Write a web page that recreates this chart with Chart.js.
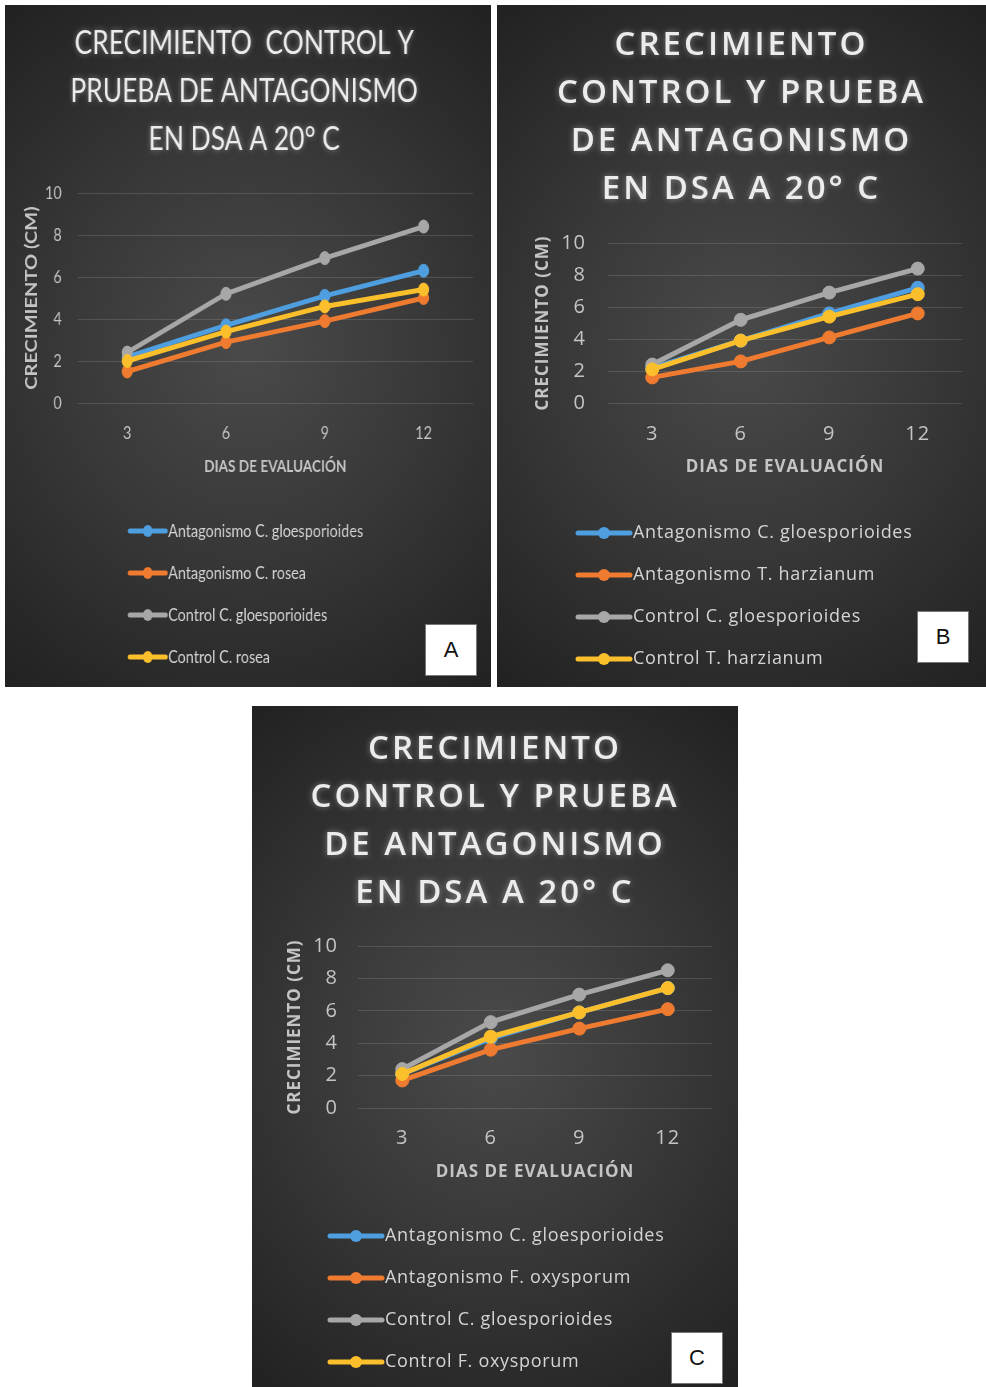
<!DOCTYPE html>
<html>
<head>
<meta charset="utf-8">
<script src="https://cdn.jsdelivr.net/npm/chart.js@4"></script>
<style>
  body { margin: 0; background: #fff; width: 986px; height: 1387px; position: relative; overflow: hidden; }
  .panel {
    position: absolute; overflow: hidden;
    background: radial-gradient(ellipse 80% 62% at 50% 50%, #4a4a4a 0%, #383838 48%, #222 100%);
  }
  .panel canvas { position: absolute; left: 0; top: 0; transform-origin: 0 0; }
  .tag {
    position: absolute; width: 50px; height: 50px; background: #fff; border: 1px solid #777;
    color: #111; font: 22px 'Liberation Sans', Arial, sans-serif;
    display: flex; align-items: center; justify-content: center;
  }
</style>
</head>
<body>
<!-- el grafico A va comprimido en horizontal -->
<div class="panel" style="left:5px;top:5px;width:486px;height:682px"><canvas id="chartA" width="608" height="682" style="transform:scaleX(0.8)"></canvas></div>
<div class="panel" style="left:497px;top:5px;width:489px;height:682px"><canvas id="chartB" width="489" height="682"></canvas></div>
<div class="panel" style="left:252px;top:706px;width:486px;height:681px"><canvas id="chartC" width="486" height="681"></canvas></div>
<div class="tag" style="left:425px;top:624px">A</div>
<div class="tag" style="left:917px;top:611px">B</div>
<div class="tag" style="left:671px;top:1332px">C</div>

<script>
// dias de evaluacion
const dias = ['3', '6', '9', '12'];

// Grafico A - Clonostachys rosea
const nombresA = ['Antagonismo C. gloesporioides', 'Antagonismo C. rosea', 'Control C. gloesporioides', 'Control C. rosea'];
const antagGloA = [2.2, 3.7, 5.1, 6.3];
const antagRoseaA = [1.5, 2.9, 3.9, 5.0];
const controlGloA = [2.4, 5.2, 6.9, 8.4];
const controlRoseaA = [2.0, 3.4, 4.6, 5.4];

// Grafico B - Trichoderma harzianum
const nombresB = ['Antagonismo C. gloesporioides', 'Antagonismo T. harzianum', 'Control C. gloesporioides', 'Control T. harzianum'];
const antagGloB = [2.2, 3.9, 5.6, 7.2];
const antagHarzB = [1.6, 2.6, 4.1, 5.6];
const controlGloB = [2.4, 5.2, 6.9, 8.4];
const controlHarzB = [2.1, 3.9, 5.4, 6.8];

// Grafico C - Fusarium oxysporum
const nombresC = ['Antagonismo C. gloesporioides', 'Antagonismo F. oxysporum', 'Control C. gloesporioides', 'Control F. oxysporum'];
const antagGloC = [2.1, 4.3, 5.9, 7.4];
const antagOxyC = [1.7, 3.6, 4.9, 6.1];
const controlGloC = [2.4, 5.3, 7.0, 8.5];
const controlOxyC = [2.1, 4.4, 5.9, 7.4];

const titulo = ['CRECIMIENTO', 'CONTROL Y PRUEBA', 'DE ANTAGONISMO', 'EN DSA A 20° C'];
const tituloA = ['CRECIMIENTO  CONTROL Y', 'PRUEBA DE ANTAGONISMO', 'EN DSA A 20° C'];
const yTicks = [0, 2, 4, 6, 8, 10];

const colores = ['#4e9ee0', '#ee7b30', '#a7a7a7', '#fbbf2c'];

const LATO = "Lato, 'Open Sans', sans-serif";
const OPEN = "'Open Sans', 'Noto Sans', sans-serif";

// espaciado de letras, brillo del titulo y leyenda en lista vertical
const textoPanel = {
  id: 'textoPanel',
  beforeDraw(chart, args, opts) {
    const ctx = chart.ctx;
    ctx.letterSpacing = opts.spacing;
    const tb = chart.titleBlock;
    if (tb && !tb._conBrillo) {
      const draw = tb.draw.bind(tb);
      tb.draw = (area) => {
        // el titulo va centrado sobre todo el lienzo, no solo sobre su caja
        const dx = chart.width / 2 - (tb.left + tb.right) / 2 + opts.titleDx;
        ctx.save();
        ctx.translate(dx, 0);
        ctx.letterSpacing = opts.titleSpacing;
        ctx.shadowColor = 'rgba(235,235,235,0.45)';
        ctx.shadowBlur = 6;
        draw(area);
        ctx.restore();
      };
      tb._conBrillo = true;
    }
  },
  afterDraw(chart, args, opts) {
    const { ctx } = chart;
    ctx.save();
    ctx.letterSpacing = opts.legSpacing;
    chart.data.datasets.forEach((ds, i) => {
      const y = opts.top + i * opts.gap;
      ctx.strokeStyle = ds.borderColor;
      ctx.lineWidth = 5;
      ctx.lineCap = 'round';
      ctx.beginPath();
      ctx.moveTo(opts.x0, y);
      ctx.lineTo(opts.x1, y);
      ctx.stroke();
      ctx.fillStyle = ds.borderColor;
      ctx.beginPath();
      ctx.arc((opts.x0 + opts.x1) / 2, y, 6, 0, Math.PI * 2);
      ctx.fill();
      ctx.fillStyle = '#d4d4d4';
      ctx.font = opts.font;
      ctx.textBaseline = 'middle';
      ctx.fillText(ds.label, opts.x1 + 3, y);
    });
    ctx.restore();
    ctx.letterSpacing = '0px';
  }
};

function crearGrafico(id, nombres, series, tit, g) {
  return new Chart(document.getElementById(id), {
    type: 'line',
    data: {
      labels: dias,
      datasets: series.map((vals, i) => ({
        label: nombres[i],
        data: vals,
        borderColor: colores[i],
        backgroundColor: colores[i],
        pointBackgroundColor: colores[i],
        pointBorderColor: colores[i],
        borderWidth: 5,
        pointRadius: 6.5,
        pointBorderWidth: 1,
        order: 4 - i
      }))
    },
    options: {
      responsive: false,
      animation: false,
      layout: { padding: { left: 0, right: g.right, top: 0, bottom: g.bottom } },
      plugins: {
        legend: { display: false },
        tooltip: { enabled: false },
        title: {
          display: true,
          text: tit,
          color: '#ececec',
          font: { family: g.family, size: g.titleSize, weight: g.titleWeight, lineHeight: '48px' },
          padding: { top: g.titleTop, bottom: g.titleBottom }
        },
        textoPanel: {
          spacing: g.spacing, titleSpacing: g.titleSpacing, legSpacing: g.legSpacing, titleDx: g.titleDx,
          top: g.legTop, gap: 42, x0: g.legX0, x1: g.legX1, font: g.legFont
        }
      },
      scales: {
        x: {
          offset: true,
          grid: { display: false },
          border: { display: false },
          ticks: { color: '#c4c4c4', padding: g.xPad, font: { family: g.family, size: g.tickSize } },
          title: {
            display: true, text: 'DIAS DE EVALUACIÓN', color: '#c4c4c4',
            font: { family: g.family, size: g.xTitleSize, weight: 'bold' },
            padding: { top: 0, bottom: g.xTitlePad }
          },
          afterFit: s => { s.height = 80; }
        },
        y: {
          min: 0,
          max: 10,
          afterBuildTicks: s => { s.ticks = yTicks.map(v => ({ value: v })); },
          grid: { color: 'rgba(255,255,255,0.13)', lineWidth: 1, drawTicks: false },
          border: { display: false },
          ticks: { color: '#c4c4c4', padding: g.yPad, font: { family: g.family, size: g.tickSize } },
          title: {
            display: true, text: 'CRECIMIENTO (CM)', color: '#c4c4c4',
            font: { family: g.yTitleFamily, size: g.yTitleSize, weight: 'bold' },
            padding: { top: g.yTitlePad, bottom: 0 }
          },
          afterFit: s => { s.width = g.left; }
        }
      }
    },
    plugins: [textoPanel]
  });
}

crearGrafico('chartA', nombresA, [antagGloA, antagRoseaA, controlGloA, controlRoseaA], tituloA, {
  family: LATO, titleSize: 33, titleWeight: 'normal', titleTop: 14, titleBottom: 30,
  titleSpacing: '0px', spacing: '0px', legSpacing: '0px', titleDx: -5,
  left: 91, right: 23, bottom: 204, tickSize: 18, xTitleSize: 17,
  yTitleFamily: LATO, yTitleSize: 20, yTitlePad: 22,
  xPad: 11, xTitlePad: 6, yPad: 20,
  legTop: 526, legX0: 156, legX1: 201, legFont: "18px " + LATO
});

crearGrafico('chartB', nombresB, [antagGloB, antagHarzB, controlGloB, controlHarzB], titulo, {
  family: OPEN, titleSize: 33, titleWeight: '600', titleTop: 17, titleBottom: 29,
  titleSpacing: '3px', spacing: '1px', legSpacing: '0.7px', titleDx: 0,
  left: 111, right: 24, bottom: 204, tickSize: 20, xTitleSize: 17,
  yTitleFamily: OPEN, yTitleSize: 17, yTitlePad: 35.5,
  xPad: 11, xTitlePad: 6, yPad: 22,
  legTop: 528, legX0: 81, legX1: 133, legFont: "18px " + OPEN
});

crearGrafico('chartC', nombresC, [antagGloC, antagOxyC, controlGloC, controlOxyC], titulo, {
  family: OPEN, titleSize: 33, titleWeight: '600', titleTop: 19.5, titleBottom: 28.5,
  titleSpacing: '3px', spacing: '1px', legSpacing: '0.7px', titleDx: 0,
  left: 106, right: 26, bottom: 199, tickSize: 20, xTitleSize: 17,
  yTitleFamily: OPEN, yTitleSize: 17, yTitlePad: 32.5,
  xPad: 10, xTitlePad: 6, yPad: 20,
  legTop: 530, legX0: 78, legX1: 130, legFont: "18px " + OPEN
});
</script>
</body>
</html>
